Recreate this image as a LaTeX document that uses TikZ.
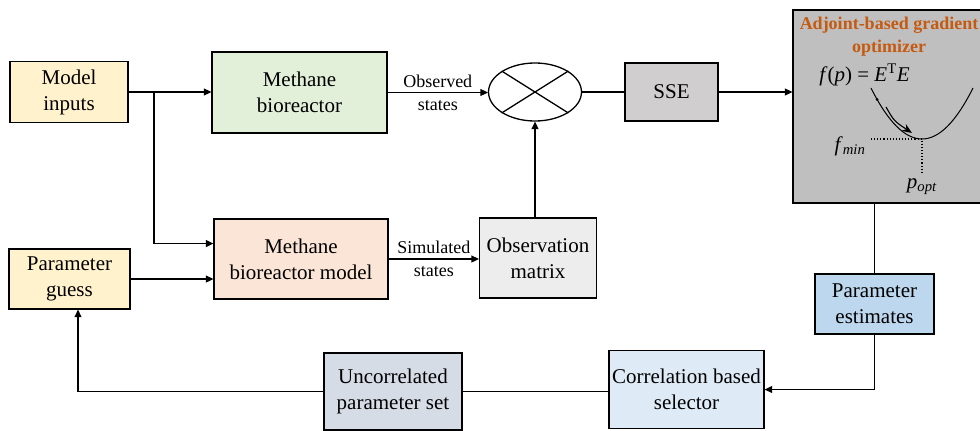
\documentclass[tikz,border=0pt]{standalone}
\usepackage{fontspec}
\setmainfont{Liberation Serif}
\usetikzlibrary{arrows.meta,shapes.geometric}
\definecolor{cyel}{HTML}{FFF2CC}
\definecolor{cgrn}{HTML}{E2F0D9}
\definecolor{cpch}{HTML}{FBE5D6}
\definecolor{cgry}{HTML}{EDEDED}
\definecolor{csse}{HTML}{D0CECE}
\definecolor{copt}{HTML}{BFBFBF}
\definecolor{cblu}{HTML}{BDD7EE}
\definecolor{clbl}{HTML}{DEEBF7}
\definecolor{cslt}{HTML}{D6DCE5}
\definecolor{corg}{HTML}{C55A11}
\begin{document}
\begin{tikzpicture}[x=1pt, y=-1pt,
		b/.style = {draw, line width=1.3pt, align=center, inner sep=2pt, font=\fontsize{21}{26}\selectfont},
		l/.style = {align=center, inner sep=0pt, font=\fontsize{18}{23}\selectfont},
		a/.style = {line width=1.3pt, -{Triangle[length=7.5pt,width=7pt]}},
		c/.style = {line width=1.3pt}]
	\useasboundingbox (0,0) rectangle (980,431);
	\node[b, fill=cyel, minimum width=118pt, minimum height=61pt] (inp) at (69,92) {Model\\inputs};
	\node[b, fill=cgrn, minimum width=175pt, minimum height=81pt] (bio) at (299.5,92.5) {Methane\\bioreactor};
	\node[b, fill=cyel, minimum width=121pt, minimum height=60pt] (gs) at (69.5,279) {Parameter\\guess};
	\node[b, fill=cpch, minimum width=174pt, minimum height=80pt] (mod) at (301,259) {Methane\\bioreactor model};
	\node[b, fill=cgry, minimum width=117pt, minimum height=80pt] (om) at (538,258) {Observation\\matrix};
	\node[draw, ellipse, line width=1.3pt, fill=white, minimum width=93pt, minimum height=58pt] (mx) at (535,92) {};
	\node[b, fill=csse, minimum width=93pt, minimum height=58pt] (sse) at (671.5,92) {SSE};
	\node[b, fill=copt, minimum width=202pt, minimum height=193pt] (opt) at (894,106.5) {};
	\node[b, fill=cblu, minimum width=119pt, minimum height=60pt] (est) at (874.5,304) {Parameter\\estimates};
	\node[b, fill=clbl, minimum width=155pt, minimum height=78pt] (cor) at (686.5,389.5) {Correlation based\\selector};
	\node[b, fill=cslt, minimum width=138pt, minimum height=77pt] (unc) at (393,391.5) {Uncorrelated\\parameter set};
	\coordinate (j) at (154,92);

	% cross in the comparator
	\draw[c] (mx.north west) -- (mx.south east);
	\draw[c] (mx.south west) -- (mx.north east);

	\draw[a] (inp.east) -- (inp.east -| bio.west);
	\draw[a] (j) |- (mod.170);
	\draw[a] (gs.east) -- (gs.east -| mod.west);
	\draw[a] (bio.east) -- node[l] {Observed\\states} (bio.east -| mx.west);
	\draw[a] (mod.east) -- node[l] {Simulated\\states} (mod.east -| om.west);
	\draw[a] (om.north -| mx.south) -- (mx.south);
	\draw[c] (mx.east) -- (sse.west);
	\draw[a] (sse.east) -- (sse.east -| opt.west);
	\draw[c] (est.north |- opt.south) -- (est.north);
	\draw[a] (est.south) |- (cor.east);
	\draw[c] (unc.east) -- (unc.east -| cor.west);
	\draw[a] (unc.west) -| ([xshift=8.5pt]gs.south);

	% optimizer sketch
	\node[align=center, text=corg, inner sep=0pt, font=\bfseries\fontsize{18}{23}\selectfont] (ttl) at (889,36.5) {Adjoint-based gradient\\optimizer};
	\node[inner sep=0pt, font=\fontsize{21}{26}\selectfont] (fp) at (864.5,75) {\textit{f}(\textit{p}) = \textit{E}\textsuperscript{T}\textit{E}};
	\coordinate (p0) at (871,88);
	\coordinate (pm) at (922,139);
	\coordinate (p1) at (973,88);
	\draw[line width=1pt] (p0) .. controls (905,156) and (939,156) .. (p1);
	\fill (877,99.5) circle (1.5pt);
	\draw[line width=1.1pt, -{Stealth[length=10pt,width=8pt]}] (886,107) .. controls (894,121) .. (912,133);
	\draw[dotted, line width=1.1pt] (871,139) -- (pm) -- (922,173);
	\node[inner sep=0pt, font=\fontsize{21}{26}\selectfont] (fm) at (850,146) {\textit{f}\textsubscript{\textit{min}}};
	\node[inner sep=0pt, font=\fontsize{21}{26}\selectfont] (po) at (922,187) {\textit{p}\textsubscript{\textit{opt}}};
\end{tikzpicture}
\end{document}
